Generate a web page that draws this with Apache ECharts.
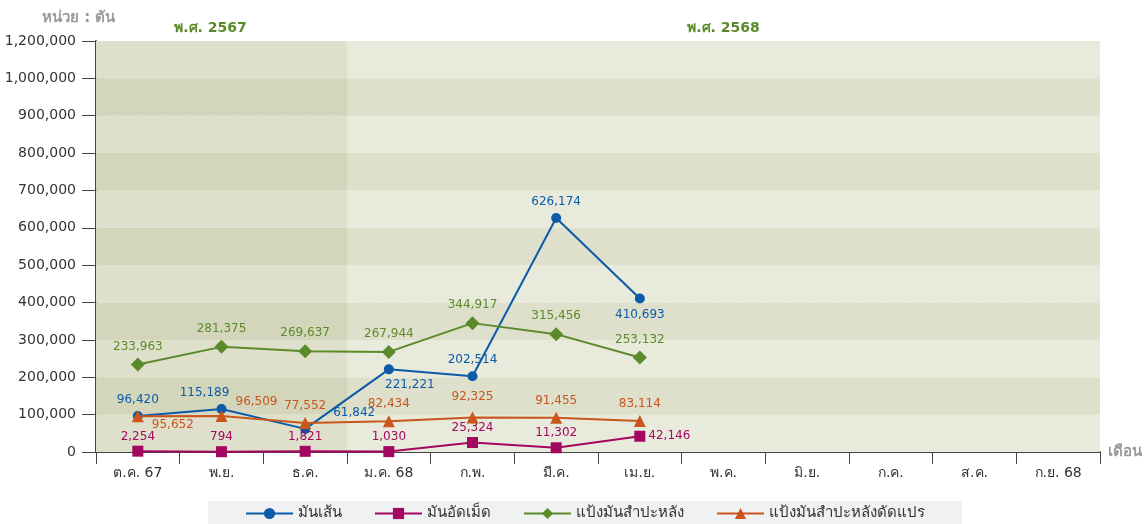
<!DOCTYPE html>
<html>
<head>
<meta charset="utf-8">
<script src="https://cdn.jsdelivr.net/npm/echarts@6/dist/echarts.min.js"></script>
<style>
  html, body { margin: 0; padding: 0; background: #fff; }
  #chart { width: 1146px; height: 524px; }
</style>
</head>
<body>
<div id="chart"></div>
<script>
// เดือน (แกน x)
const months = ['ต.ค. 67', 'พ.ย.', 'ธ.ค.', 'ม.ค. 68', 'ก.พ.', 'มี.ค.', 'เม.ย.', 'พ.ค.', 'มิ.ย.', 'ก.ค.', 'ส.ค.', 'ก.ย. 68'];

// ปริมาณ (ตัน)
const chips = [96420, 115189, 61842, 221221, 202514, 626174, 410693];
const pellets = [2254, 794, 1821, 1030, 25324, 11302, 42146];
const starch = [233963, 281375, 269637, 267944, 344917, 315456, 253132];
const modStarch = [95652, 96509, 77552, 82434, 92325, 91455, 83114];

const seriesNames = ['มันเส้น', 'มันอัดเม็ด', 'แป้งมันสำปะหลัง', 'แป้งมันสำปะหลังดัดแปร'];

// ป้ายแกน y (ช่องบนสุดเขียนว่า 1,200,000 ตามต้นฉบับ)
const yTickLabels = ['0', '100,000', '200,000', '300,000', '400,000', '500,000', '600,000',
  '700,000', '800,000', '900,000', '1,000,000', '1,200,000'];
const yStep = 100000;

// ช่วงปี พ.ศ. (นับเป็นจำนวนเดือน)
const yearSpans = [
  { label: 'พ.ศ. 2567', from: 0, to: 3 },
  { label: 'พ.ศ. 2568', from: 3, to: 12 }
];

const FONT = '"DejaVu Sans", "Noto Sans", sans-serif';
const colors = ['#0b5ba8', '#a3075f', '#5b8a2a', '#c8561d'];
const bandColors = [
  ['#dfe0cb', '#d3d6bb'], // พ.ศ. 2567
  ['#e8eadb', '#dee0cc']  // พ.ศ. 2568
];

// ตำแหน่งป้ายตัวเลข
const labelPlace = [
  [{ position: 'top' }, { position: 'top', offset: [-17, 0] }, { position: 'top', offset: [49, 0] },
   { position: 'bottom', offset: [21, 0] }, { position: 'top' }, { position: 'top' }, { position: 'bottom' }],
  [{}, {}, {}, {}, {}, {}, { position: 'right' }],
  [{}, {}, {}, {}, {}, {}, {}],
  [{ position: 'right', offset: [3, 9] }, { position: 'right', offset: [3, -14] }, {}, {},
   { position: 'top', offset: [0, -4] }, {}, {}]
];

const symbols = ['circle', 'rect', 'diamond', 'triangle'];
const symbolSizes = [10, 11, 14, 12];
const labelDist = [5, 3, 5, 5];
const dataSets = [chips, pellets, starch, modStarch];

const lineSeries = dataSets.map((arr, s) => ({
  name: seriesNames[s],
  type: 'line',
  data: arr.map((v, i) => ({ value: v, label: labelPlace[s][i] })),
  symbol: symbols[s],
  symbolSize: symbolSizes[s],
  color: colors[s],
  lineStyle: { width: 2, color: colors[s] },
  z: 3 + s,
  label: {
    show: true,
    position: 'top',
    distance: labelDist[s],
    color: colors[s],
    fontSize: 12,
    fontFamily: FONT,
    formatter: p => p.value.toLocaleString('en-US')
  }
}));

// พื้นหลังแถบสลับสี แยกตามปี
const bands = [];
yearSpans.forEach((span, k) => {
  for (let i = 0; i < yTickLabels.length - 1; i++) {
    const top = i === yTickLabels.length - 2;
    bands.push([
      {
        xAxis: span.from, yAxis: i * yStep,
        itemStyle: { color: bandColors[k][i % 2] },
        label: top ? {
          show: true, position: 'top', distance: 6, formatter: span.label,
          color: '#5b8a2a', fontWeight: 'bold', fontSize: 14, fontFamily: FONT,
          offset: [k === 0 ? -11 : 0, 0]
        } : { show: false }
      },
      { xAxis: span.to, yAxis: (i + 1) * yStep }
    ]);
  }
});

const chart = echarts.init(document.getElementById('chart'));
chart.setOption({
  animation: false,
  textStyle: { fontFamily: FONT },
  grid: { left: 96, right: 46, top: 41, bottom: 72 },
  graphic: [{
    type: 'text', left: 42, top: 11,
    style: { text: 'หน่วย : ตัน', fill: '#9a9a9a', fontSize: 15, fontWeight: 'bold', fontFamily: FONT }
  }],
  legend: {
    data: seriesNames,
    left: 208, top: 501,
    backgroundColor: '#f0f1f3',
    padding: [5, 37, 8, 37],
    itemWidth: 47, itemHeight: 14, itemGap: 32,
    textStyle: { color: '#333', fontSize: 15, fontFamily: FONT }
  },
  xAxis: [{
    type: 'category',
    data: months,
    boundaryGap: true,
    name: 'เดือน',
    nameGap: 8,
    nameTextStyle: { color: '#9a9a9a', fontSize: 15, fontWeight: 'bold', verticalAlign: 'middle' },
    axisLine: { lineStyle: { color: '#444', width: 2 } },
    axisTick: { show: true, interval: 0, length: 12, lineStyle: { color: '#444', width: 1 } },
    axisLabel: { color: '#333', fontSize: 14, margin: 14, interval: 0 },
    splitLine: { show: false }
  }, {
    type: 'value', min: 0, max: months.length, show: false
  }],
  yAxis: {
    type: 'value',
    min: 0,
    max: (yTickLabels.length - 1) * yStep,
    interval: yStep,
    axisLine: { show: true, lineStyle: { color: '#444', width: 2 } },
    axisTick: { show: true, length: 14, lineStyle: { color: '#444' } },
    axisLabel: {
      color: '#333', fontSize: 14, margin: 20,
      formatter: v => yTickLabels[Math.round(v / yStep)]
    },
    splitLine: { show: true, lineStyle: { color: '#eeeee6', type: 'dashed', width: 1 } }
  },
  series: [{
    type: 'line',
    xAxisIndex: 1,
    data: [],
    silent: true,
    z: -1,
    markArea: { silent: true, label: { show: false }, data: bands }
  }].concat(lineSeries)
});
</script>
</body>
</html>
